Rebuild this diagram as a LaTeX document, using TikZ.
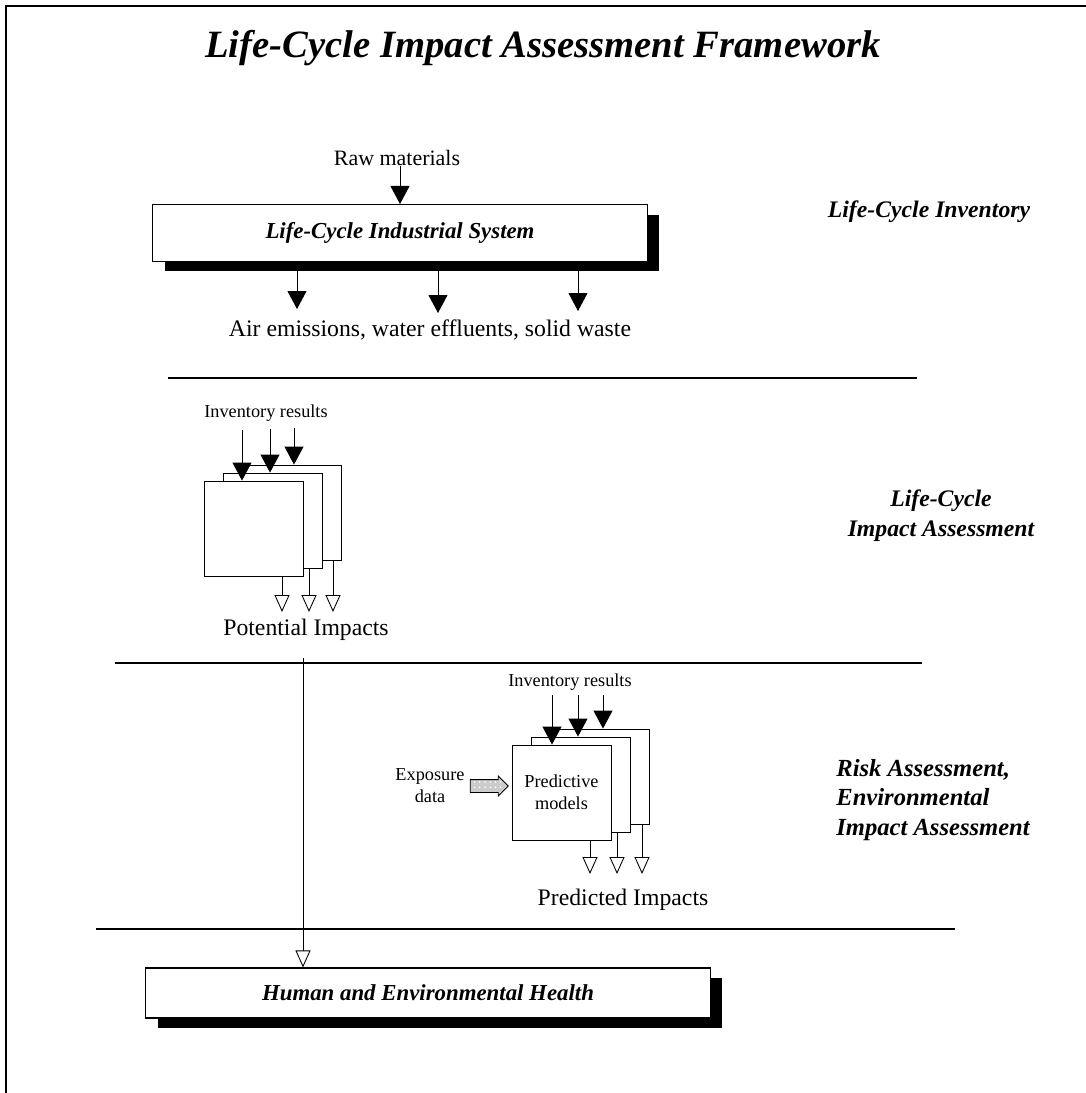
\documentclass[tikz,border=0pt]{standalone}
\usepackage{fontspec}
\setmainfont{Liberation Serif}
\usetikzlibrary{arrows.meta,positioning,shadows,shapes.arrows,patterns}
\tikzset{
    frame line/.style={line width=0.9pt},
    divider/.style={line width=0.6pt},
    arr/.style={-{Triangle[length=0.36cm,width=0.38cm]},line width=0.5pt},
    open arr/.style={-{Triangle[open,length=0.34cm,width=0.3cm,fill=white]},line width=0.5pt},
    system box/.style={draw,fill=white,line width=0.6pt,
        drop shadow={shadow xshift=0.24cm,shadow yshift=-0.2cm,opacity=1,fill=black},
        font=\fontsize{13}{15}\selectfont\bfseries\itshape},
    card/.style={draw,fill=white,line width=0.5pt,minimum width=1.98cm,minimum height=1.9cm},
    title/.style={font=\fontsize{22}{26}\selectfont\bfseries\itshape},
    stage label/.style={font=\fontsize{13.5}{17}\selectfont\bfseries\itshape},
    flow label/.style={font=\fontsize{13.5}{16}\selectfont},
    small label/.style={font=\fontsize{10.4}{12.5}\selectfont},
    data arrow/.style={single arrow,draw,line width=0.5pt,inner xsep=0pt,inner ysep=0.12cm,
        minimum width=0.38cm,minimum height=0.76cm,single arrow head extend=0.07cm,
        single arrow head indent=0pt,
        preaction={fill=gray!40},pattern=dots,pattern color=white},
}
\tikzstyle{every node}=[inner sep=0pt]

\begin{document}
\begin{tikzpicture}[x=0.02cm,y=-0.02cm]
        \useasboundingbox (0,0) rectangle (1086,1093);
        \draw[frame line] (6,1093) -- (6,6) -- (1086,6);
        \node[title] (head) at (543,48) {Life-Cycle Impact Assessment Framework};

        % inventory
        \begin{scope}
            \node[flow label, font=\fontsize{12.5}{15}\selectfont] (raw) at (397,158) {Raw materials};
            \node[system box, minimum width=9.9cm, minimum height=1.14cm] (lcis) at (400,233)
                {Life-Cycle Industrial System};
            \draw[arr] (raw.south -| lcis.north) -- (lcis.north);
            \node[flow label] (emis) at (430,330) {Air emissions, water effluents, solid waste};
            \coordinate (e1) at (297,309);
            \coordinate (e2) at (438,313);
            \coordinate (e3) at (578,311);
            \draw[arr] (e1 |- lcis.south) -- (e1);
            \draw[arr] (e2 |- lcis.south) -- (e2);
            \draw[arr] (e3 |- lcis.south) -- (e3);
            \node[stage label] (lci) at (929,212) {Life-Cycle Inventory};
            \draw[divider] (168,378) -- (917,378);
        \end{scope}

        % impact assessment
        \begin{scope}
            \node[small label] (inv) at (266,413) {Inventory results};
            \node[card] (cardC) at (291.5,512.5) {};
            \node[card] (cardB) at (272.5,520.5) {};
            \node[card] (cardA) at (253.5,528.5) {};
            \coordinate (iA) at (242,430);
            \coordinate (iB) at (270,429);
            \coordinate (iC) at (294,428);
            \draw[arr] (iA) -- (iA |- cardA.north);
            \draw[arr] (iB) -- (iB |- cardB.north);
            \draw[arr] (iC) -- (iC |- cardC.north);
            \coordinate (oA) at (282,612);
            \coordinate (oB) at (309,612);
            \coordinate (oC) at (333,612);
            \draw[open arr] (oA |- cardA.south) -- (oA);
            \draw[open arr] (oB |- cardB.south) -- (oB);
            \draw[open arr] (oC |- cardC.south) -- (oC);
            \node[flow label] (pot) at (306,630) {Potential Impacts};
            \node[stage label, align=center] (lcia) at (941,516) {Life-Cycle\\Impact Assessment};
            \draw[divider] (115,663) -- (922,663);
        \end{scope}

        % risk assessment
        \begin{scope}
            \node[small label] (inv2) at (570,682) {Inventory results};
            \node[card] (modelC) at (599.5,776.5) {};
            \node[card] (modelB) at (580.5,784.5) {};
            \node[card, align=center, small label] (modelA) at (561.5,792.5) {Predictive\\models};
            \coordinate (jA) at (552,695);
            \coordinate (jB) at (578,695);
            \coordinate (jC) at (603,695);
            \draw[arr] (jA) -- (jA |- modelA.north);
            \draw[arr] (jB) -- (jB |- modelB.north);
            \draw[arr] (jC) -- (jC |- modelC.north);
            \coordinate (pA) at (590,874);
            \coordinate (pB) at (617,874);
            \coordinate (pC) at (642,874);
            \draw[open arr] (pA |- modelA.south) -- (pA);
            \draw[open arr] (pB |- modelB.south) -- (pB);
            \draw[open arr] (pC |- modelC.south) -- (pC);
            \node[small label, align=center] (expo) at (430,786) {Exposure\\data};
            \node[data arrow] (expoarr) at (486,786) {};
            \node[flow label] (pred) at (623,900) {Predicted Impacts};
            \node[stage label, font=\fontsize{14}{17}\selectfont\bfseries\itshape, align=left, anchor=west] (ra)
                at (836,800) {Risk Assessment,\\Environmental\\Impact Assessment};
            \draw[divider] (96,929) -- (955,929);
        \end{scope}

        \node[system box, minimum width=11.3cm, minimum height=1cm] (health) at (428,993)
            {Human and Environmental Health};
        \coordinate (down) at (303,658);
        \draw[open arr] (down) -- (down |- health.north);
    \end{tikzpicture}
\end{document}
